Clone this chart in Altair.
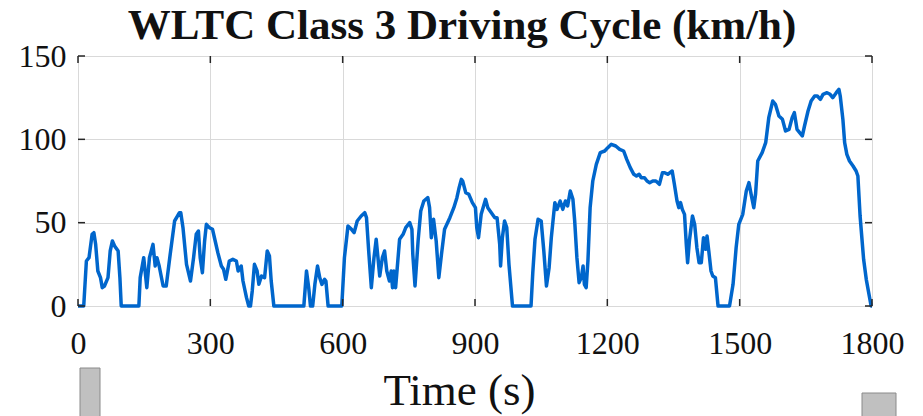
import altair as alt
import pandas as pd

title_text = "WLTC Class 3 Driving Cycle (km/h)"
x_title = "Time (s)"

time_s = [0, 13, 19, 25, 32, 36, 40, 45, 51, 55, 60, 68, 73, 78, 83, 91, 95, 98,
          138, 141, 149, 156, 162, 170, 175, 179, 184, 193, 200, 208, 219, 230, 233,
          238, 246, 255, 262, 268, 273, 277, 282, 287, 291, 298, 305, 311, 317, 325,
          330, 335, 338, 343, 351, 359, 363, 370, 374, 382, 387, 391, 395, 400, 406,
          410, 416, 423, 429, 434, 438, 444, 512, 518, 523, 527, 532, 537, 543, 548,
          553, 559, 562, 567, 598, 604, 612, 620, 626, 633, 642, 650, 654, 659, 665,
          671, 676, 684, 690, 695, 700, 706, 710, 713, 716, 720, 725, 729, 737, 743,
          752, 757, 759, 764, 771, 777, 784, 793, 797, 801, 806, 812, 818, 824, 831,
          843, 852, 859, 864, 869, 872, 879, 886, 894, 901, 904, 908, 914, 924, 929,
          937, 945, 950, 956, 958, 962, 967, 972, 977, 985, 1027, 1031, 1036, 1043,
          1050, 1056, 1062, 1068, 1073, 1081, 1086, 1093, 1099, 1105, 1110, 1116,
          1122, 1126, 1131, 1136, 1141, 1145, 1148, 1152, 1156, 1161, 1167, 1175,
          1184, 1194, 1201, 1209, 1219, 1228, 1237, 1244, 1252, 1260, 1266, 1272,
          1277, 1284, 1290, 1296, 1303, 1310, 1318, 1325, 1330, 1337, 1347, 1352,
          1358, 1362, 1366, 1370, 1375, 1379, 1382, 1386, 1393, 1398, 1403, 1408,
          1413, 1418, 1423, 1426, 1430, 1435, 1439, 1445, 1451, 1477, 1485, 1492,
          1498, 1507, 1515, 1521, 1526, 1532, 1536, 1541, 1551, 1559, 1566, 1575,
          1581, 1589, 1597, 1604, 1612, 1619, 1624, 1630, 1636, 1642, 1647, 1655,
          1662, 1670, 1676, 1683, 1689, 1698, 1705, 1711, 1719, 1725, 1728, 1734,
          1738, 1743, 1749, 1757, 1764, 1768, 1773, 1781, 1787, 1798, 1800]

speed_kmh = [0, 0, 27, 29, 43, 44, 37, 21, 17, 11, 12, 17, 33, 39, 36, 33, 17, 0,
             0, 17, 29, 11, 29, 37, 24, 29, 24, 12, 12, 29, 51, 56, 56,
             47, 25, 15, 29, 43, 45, 29, 20, 39, 49, 47, 46, 39, 32, 24,
             22, 16, 20, 27, 28, 27, 21, 24, 15, 5, 0, 0, 9, 25, 21,
             13, 18, 17, 33, 30, 15, 0, 0, 21, 11, 0, 0, 13, 24, 17,
             13, 16, 15, 0, 0, 29, 48, 46, 44, 51, 54, 56, 53, 33, 11,
             29, 40, 18, 29, 33, 21, 15, 21, 11, 21, 11, 27, 40, 43, 47,
             50, 46, 31, 12, 39, 57, 63, 65, 59, 41, 52, 39, 17, 31, 46,
             53, 59, 65, 71, 76, 75, 68, 67, 62, 59, 47, 41, 55, 64, 59,
             56, 53, 53, 37, 24, 41, 51, 47, 25, 0, 0, 20, 40, 52,
             51, 33, 12, 23, 41, 62, 58, 63, 58, 63, 60, 69,
             64, 51, 29, 14, 17, 24, 13, 11, 27, 59, 75, 85,
             92, 93, 95, 97, 96, 94, 93, 88, 83, 79, 78, 79,
             77, 77, 75, 74, 75, 75, 73, 80, 80, 79, 81, 73,
             63, 59, 62, 58, 55, 37, 26, 39, 54, 49, 35, 26,
             26, 41, 34, 42, 33, 21, 18, 17, 0, 0, 13, 35,
             49, 55, 69, 74, 67, 59, 67, 87, 92, 98, 113, 123,
             121, 114, 112, 105, 106, 113, 116, 106, 104, 102, 108, 117,
             123, 126, 126, 124, 127, 128, 127, 125, 128, 130, 126, 112,
             98, 91, 87, 84, 81, 78, 54, 28, 16, 0, 0]

x_ticks = [0, 300, 600, 900, 1200, 1500, 1800]
y_ticks = [0, 50, 100, 150]

W, H = 794, 250
FONT = "Liberation Serif"
LINE_COLOR = "#0066cc"
AX_COLOR = "#262626"
TXT = "#111111"

df = pd.DataFrame({"t": time_s, "v": speed_kmh})
xt = pd.DataFrame({"t": x_ticks})
yt = pd.DataFrame({"v": y_ticks})

xscale = alt.Scale(domain=[0, 1800], nice=False)
yscale = alt.Scale(domain=[0, 150], nice=False)

x_axis = alt.Axis(values=x_ticks, format="d", title=x_title, grid=True, gridColor="#d9d9d9",
                  gridWidth=1, tickSize=0, domain=False, labelPadding=22,
                  labelFont=FONT, labelFontSize=32, labelColor=TXT,
                  titleFont=FONT, titleFontSize=45, titleFontWeight="normal",
                  titleColor=TXT, titlePadding=9, titleX=381, titleAlign="center",
                  labelFlush=False)
y_axis = alt.Axis(values=y_ticks, format="d", title=None, grid=True, gridColor="#d9d9d9",
                  gridWidth=1, tickSize=0, domain=False, labelPadding=12,
                  labelFont=FONT, labelFontSize=32, labelColor=TXT,
                  labelFlush=False)

line = alt.Chart(df).mark_line(color=LINE_COLOR, strokeWidth=3.5, strokeJoin="round").encode(
    x=alt.X("t:Q", scale=xscale, axis=x_axis),
    y=alt.Y("v:Q", scale=yscale, axis=y_axis),
)

tick_style = dict(color=AX_COLOR, strokeWidth=1.5)
xt_bottom = alt.Chart(xt).mark_rule(**tick_style).encode(
    x=alt.X("t:Q", scale=xscale, axis=x_axis), y=alt.value(H), y2=alt.value(H - 7))
xt_top = alt.Chart(xt).mark_rule(**tick_style).encode(
    x=alt.X("t:Q", scale=xscale, axis=x_axis), y=alt.value(0), y2=alt.value(7))
yt_left = alt.Chart(yt).mark_rule(**tick_style).encode(
    y=alt.Y("v:Q", scale=yscale, axis=y_axis), x=alt.value(0), x2=alt.value(7))
yt_right = alt.Chart(yt).mark_rule(**tick_style).encode(
    y=alt.Y("v:Q", scale=yscale, axis=y_axis), x=alt.value(W), x2=alt.value(W - 7))

# decorative grey blocks visible under the axis in the reference
deco = pd.DataFrame({"k": [0]})
deco_left = alt.Chart(deco).mark_rect(fill="#c0c0c0", stroke="#8a8a8a", strokeWidth=1).encode(
    x=alt.value(2), x2=alt.value(22), y=alt.value(312), y2=alt.value(362))
deco_right = alt.Chart(deco).mark_rect(fill="#c0c0c0", stroke="#8a8a8a", strokeWidth=1).encode(
    x=alt.value(784), x2=alt.value(818), y=alt.value(337), y2=alt.value(362))

chart = alt.layer(line, xt_bottom, xt_top, yt_left, yt_right, deco_left, deco_right).properties(
    width=W, height=H,
    title=alt.TitleParams(title_text, font=FONT, fontSize=43, fontWeight="bold",
                          color=TXT, anchor="middle", offset=-8, dx=-13),
    autosize=alt.AutoSizeParams(type="none"),
    padding={"left": 78, "top": 56, "right": 51, "bottom": 110},
).configure_view(stroke=AX_COLOR, strokeWidth=1.5).configure(background="white")

chart.save("out.html", embed_options={"renderer": "svg", "actions": False})
